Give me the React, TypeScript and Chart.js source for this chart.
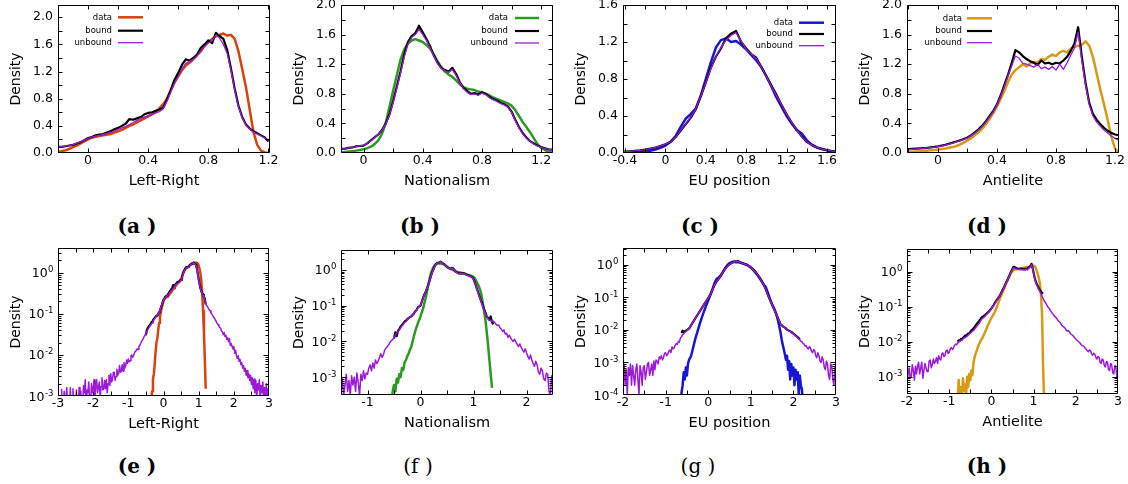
import React, { useEffect, useRef } from 'react';
import { Chart, registerables } from 'chart.js';

Chart.register(...registerables);

function grid(start: number, step: number, n: number): number[] {
  const out: number[] = [];
  for (let i = 0; i < n; i++) out.push(Math.round((start + i * step) * 10000) / 10000);
  return out;
}

// ---------------- Left-Right (a, e) ----------------
const lrX = grid(-0.2, 0.025, 57);
const lrData = [0.02, 0.025, 0.04, 0.06, 0.085, 0.11, 0.14, 0.17, 0.2, 0.225, 0.24, 0.25, 0.26, 0.27, 0.28, 0.3, 0.32, 0.34, 0.37, 0.4, 0.42, 0.45, 0.48, 0.51, 0.54, 0.57, 0.6, 0.66, 0.72, 0.8, 0.92, 1.04, 1.13, 1.22, 1.29, 1.33, 1.38, 1.44, 1.5, 1.58, 1.64, 1.68, 1.72, 1.74, 1.76, 1.73, 1.74, 1.68, 1.5, 1.24, 0.97, 0.64, 0.31, 0.12, 0.035, 0.008, 0.0015];
const lrBound = [0.09, 0.09, 0.1, 0.11, 0.12, 0.14, 0.16, 0.19, 0.22, 0.235, 0.26, 0.27, 0.28, 0.3, 0.32, 0.35, 0.37, 0.4, 0.43, 0.5, 0.49, 0.51, 0.53, 0.57, 0.59, 0.6, 0.62, 0.64, 0.67, 0.79, 0.93, 1.08, 1.18, 1.3, 1.38, 1.36, 1.4, 1.45, 1.55, 1.6, 1.66, 1.62, 1.77, 1.72, 1.68, 1.52, 1.25, 0.95, 0.7, 0.53, 0.42, 0.36, 0.32, 0.29, 0.26, 0.23, 0.17];
const lrUnbound = [0.09, 0.095, 0.1, 0.11, 0.125, 0.145, 0.165, 0.19, 0.215, 0.235, 0.25, 0.26, 0.275, 0.29, 0.305, 0.325, 0.35, 0.37, 0.39, 0.42, 0.45, 0.48, 0.51, 0.53, 0.55, 0.57, 0.59, 0.61, 0.65, 0.76, 0.9, 1.03, 1.13, 1.24, 1.32, 1.35, 1.38, 1.43, 1.5, 1.57, 1.62, 1.65, 1.74, 1.69, 1.6, 1.47, 1.22, 0.93, 0.68, 0.52, 0.41, 0.35, 0.31, 0.28, 0.25, 0.22, 0.18];
const lrDataLX = grid(-0.35, 0.025, 6);
const lrDataL = [0.0008, 0.0013, 0.0025, 0.0035, 0.006, 0.012];
const lrBoundLX = grid(-0.5, 0.025, 12);
const lrBoundL = [0.03, 0.04, 0.045, 0.048, 0.052, 0.055, 0.06, 0.065, 0.07, 0.075, 0.08, 0.085];
const lrUnboundLX = grid(-2.9, 0.025, 108);
const lrUnboundL = [
  0.0015, 0.0005, 0.0005, 0.0013, 0.0005, 0.0005, 0.0016, 0.0005, 0.0005, 0.0005,
  0.0016, 0.0005, 0.0005, 0.0015, 0.0005, 0.0005, 0.0005, 0.0014, 0.0005, 0.0005,
  0.0016, 0.0005, 0.0013, 0.0005, 0.0005, 0.0018, 0.0012, 0.0025, 0.0005, 0.0014,
  0.0012, 0.0022, 0.0008, 0.0005, 0.002, 0.0012, 0.0015, 0.0025, 0.0008, 0.0018,
  0.0025, 0.0012, 0.0016, 0.0022, 0.0009, 0.0017, 0.0028, 0.0014, 0.0015, 0.0024,
  0.0015, 0.0025, 0.0012, 0.002, 0.0032, 0.0018, 0.0035, 0.0022, 0.0025, 0.0038,
  0.0038, 0.0024, 0.003, 0.0045, 0.0032, 0.0035, 0.0055, 0.0038, 0.004, 0.0058,
  0.004, 0.0065, 0.0048, 0.0055, 0.0075, 0.0062, 0.008, 0.0068, 0.0072, 0.0095,
  0.01, 0.0088, 0.0095, 0.0115, 0.012, 0.0128, 0.014, 0.0135, 0.016, 0.0172,
  0.019, 0.021, 0.023, 0.025, 0.028, 0.031, 0.034, 0.037, 0.041, 0.044,
  0.048, 0.052, 0.056, 0.06, 0.065, 0.07, 0.076, 0.082,
];
const lrUnboundRX = grid(1.225, 0.025, 72);
const lrUnboundR = [
  0.16, 0.15, 0.135, 0.125, 0.118, 0.105, 0.098, 0.09, 0.082, 0.078,
  0.07, 0.065, 0.058, 0.055, 0.05, 0.046, 0.045, 0.038, 0.036, 0.031,
  0.035, 0.028, 0.03, 0.024, 0.026, 0.021, 0.025, 0.017, 0.019, 0.016,
  0.014, 0.016, 0.011, 0.013, 0.0095, 0.0082, 0.0095, 0.007, 0.0078, 0.0058,
  0.0065, 0.0048, 0.0055, 0.004, 0.0047, 0.0032, 0.0042, 0.0028, 0.0035, 0.0024,
  0.0032, 0.0019, 0.0028, 0.0015, 0.0026, 0.0012, 0.0024, 0.0008, 0.002, 0.0014,
  0.0025, 0.0008, 0.0018, 0.0012, 0.0022, 0.0007, 0.0016, 0.0011, 0.002, 0.0008,
  0.0015, 0.0012,
];

// ---------------- Nationalism (b, f) ----------------
const natX = grid(-0.175, 0.025, 59);
const natData = [0.007, 0.01, 0.014, 0.019, 0.025, 0.032, 0.04, 0.05, 0.065, 0.085, 0.12, 0.17, 0.26, 0.4, 0.62, 0.84, 1.05, 1.26, 1.4, 1.48, 1.52, 1.54, 1.52, 1.5, 1.46, 1.41, 1.33, 1.24, 1.16, 1.1, 1.06, 1.03, 0.98, 0.93, 0.89, 0.87, 0.86, 0.85, 0.83, 0.82, 0.8, 0.78, 0.75, 0.73, 0.71, 0.69, 0.67, 0.64, 0.58, 0.5, 0.42, 0.35, 0.28, 0.2, 0.12, 0.07, 0.04, 0.018, 0.008];
const natBound = [0.05, 0.055, 0.06, 0.07, 0.075, 0.09, 0.095, 0.1, 0.13, 0.17, 0.21, 0.25, 0.31, 0.4, 0.52, 0.7, 0.9, 1.1, 1.33, 1.5, 1.58, 1.62, 1.72, 1.63, 1.54, 1.44, 1.32, 1.22, 1.15, 1.12, 1.1, 1.15, 1.07, 0.96, 0.88, 0.84, 0.8, 0.81, 0.79, 0.82, 0.8, 0.76, 0.73, 0.71, 0.68, 0.66, 0.63, 0.56, 0.45, 0.35, 0.27, 0.21, 0.16, 0.13, 0.1, 0.08, 0.065, 0.05, 0.045];
const natUnbound = [0.05, 0.055, 0.06, 0.068, 0.075, 0.085, 0.095, 0.105, 0.13, 0.165, 0.205, 0.25, 0.31, 0.39, 0.51, 0.68, 0.88, 1.08, 1.3, 1.47, 1.56, 1.6, 1.67, 1.6, 1.52, 1.42, 1.31, 1.21, 1.14, 1.11, 1.09, 1.13, 1.05, 0.95, 0.87, 0.82, 0.79, 0.8, 0.78, 0.81, 0.79, 0.75, 0.72, 0.7, 0.67, 0.65, 0.62, 0.55, 0.44, 0.34, 0.26, 0.2, 0.16, 0.12, 0.095, 0.075, 0.06, 0.05, 0.042];
const natDataLX = grid(-0.55, 0.025, 15);
const natDataL = [0.0002, 0.0004, 0.0006, 0.0004, 0.0009, 0.0007, 0.0012, 0.001, 0.0018, 0.0016, 0.0026, 0.003, 0.0038, 0.0045, 0.0058];
const natDataRX = grid(1.3, 0.025, 3);
const natDataR = [0.003, 0.0012, 0.0005];
const natBoundLX = grid(-0.5, 0.025, 13);
const natBoundL = [0.012, 0.018, 0.014, 0.02, 0.022, 0.026, 0.029, 0.032, 0.036, 0.038, 0.042, 0.045, 0.048];
const natBoundRX = grid(1.3, 0.025, 4);
const natBoundR = [0.04, 0.05, 0.035, 0.03];
const natUnboundLX = grid(-1.5, 0.025, 53);
const natUnboundL = [
  0.0004, 0.0009, 0.0003, 0.0006, 0.0012, 0.0004, 0.0008, 0.0003, 0.0011, 0.0006,
  0.001, 0.0004, 0.0013, 0.0007, 0.0003, 0.0012, 0.0008, 0.0015, 0.0009, 0.0013,
  0.0012, 0.0018, 0.0022, 0.0015, 0.0025, 0.0018, 0.003, 0.0024, 0.0028, 0.0035,
  0.0045, 0.0036, 0.0042, 0.0058, 0.0065, 0.0072, 0.008, 0.0095, 0.0105, 0.0112,
  0.013, 0.0145, 0.017, 0.0185, 0.021, 0.024, 0.027, 0.03, 0.034, 0.036,
  0.041, 0.045, 0.048,
];
const natUnboundRX = grid(1.3, 0.025, 49);
const natUnboundR = [
  0.04, 0.038, 0.036, 0.037, 0.034, 0.03, 0.028, 0.029, 0.024, 0.022,
  0.019, 0.021, 0.016, 0.017, 0.013, 0.015, 0.0125, 0.011, 0.01, 0.0115,
  0.0095, 0.0082, 0.0072, 0.0085, 0.0068, 0.0058, 0.005, 0.0062, 0.0048, 0.0038,
  0.0032, 0.0042, 0.003, 0.0024, 0.002, 0.0028, 0.0022, 0.0014, 0.0012, 0.0018,
  0.0015, 0.0009, 0.0008, 0.0013, 0.0012, 0.0004, 0.0003, 0.0011, 0.0009,
];

// ---------------- EU position (c, g) ----------------
const euX = grid(-0.45, 0.05, 44);
const euData = [0.0012, 0.0016, 0.003, 0.0055, 0.009, 0.015, 0.024, 0.037, 0.055, 0.08, 0.12, 0.18, 0.28, 0.37, 0.42, 0.48, 0.62, 0.8, 0.98, 1.14, 1.22, 1.24, 1.2, 1.21, 1.17, 1.12, 1.06, 1.0, 0.93, 0.83, 0.72, 0.6, 0.5, 0.4, 0.32, 0.25, 0.21, 0.14, 0.09, 0.06, 0.045, 0.03, 0.017, 0.008];
const euBound = [0.011, 0.014, 0.018, 0.023, 0.029, 0.037, 0.047, 0.06, 0.075, 0.095, 0.12, 0.17, 0.24, 0.31, 0.38, 0.47, 0.61, 0.76, 0.92, 1.04, 1.13, 1.24, 1.29, 1.32, 1.2, 1.13, 1.07, 1.03, 0.93, 0.83, 0.73, 0.63, 0.52, 0.42, 0.33, 0.25, 0.18, 0.12, 0.085, 0.06, 0.042, 0.03, 0.021, 0.015];
const euUnbound = [0.011, 0.014, 0.018, 0.023, 0.029, 0.037, 0.047, 0.06, 0.075, 0.095, 0.12, 0.17, 0.245, 0.315, 0.385, 0.475, 0.61, 0.76, 0.91, 1.04, 1.14, 1.22, 1.27, 1.3, 1.21, 1.12, 1.07, 1.02, 0.93, 0.83, 0.72, 0.62, 0.52, 0.42, 0.33, 0.25, 0.18, 0.12, 0.085, 0.06, 0.042, 0.03, 0.021, 0.015];
const euDataLX = grid(-0.65, 0.025, 8);
const euDataL = [0.00005, 0.00012, 0.0002, 0.0005, 0.0003, 0.0007, 0.0004, 0.0009];
const euDataRX = grid(1.725, 0.025, 21);
const euDataR = [0.005, 0.0035, 0.0025, 0.0018, 0.0012, 0.0016, 0.0006, 0.0011, 0.0003, 0.0009, 0.0004, 0.0007, 0.0002, 0.0006, 0.0003, 0.0005, 0.0001, 0.0004, 0.0002, 0.00015, 0.00005];
const euBoundLX = grid(-0.625, 0.025, 7);
const euBoundL = [0.008, 0.0095, 0.0085, 0.009, 0.0095, 0.0098, 0.0105];
const euBoundRX = grid(1.75, 0.05, 9);
const euBoundR = [0.013, 0.0118, 0.0102, 0.0095, 0.0087, 0.0077, 0.0068, 0.006, 0.0052];
const euUnboundLX = grid(-2.0, 0.025, 61);
const euUnboundL = [
  0.0003, 0.0009, 0.0002, 0.0006, 0.0001, 0.0007, 0.0004, 0.0009, 0.0002, 0.0008,
  0.0004, 0.0002, 0.0006, 0.0009, 0.0003, 0.0001, 0.0008, 0.0005, 0.0002, 0.0007,
  0.0008, 0.0003, 0.0005, 0.0009, 0.001, 0.0004, 0.0006, 0.0009, 0.0004, 0.0011,
  0.0006, 0.0012, 0.0011, 0.0009, 0.0015, 0.0013, 0.0016, 0.0012, 0.0014, 0.0019,
  0.002, 0.0016, 0.0018, 0.0022, 0.0024, 0.002, 0.003, 0.0026, 0.0028, 0.0034,
  0.0038, 0.0036, 0.0045, 0.0042, 0.0058, 0.0062, 0.0072, 0.0075, 0.0085, 0.0088,
  0.0097,
];
const euUnboundRX = grid(1.75, 0.025, 51);
const euUnboundR = [
  0.013, 0.0125, 0.0115, 0.0108, 0.01, 0.0098, 0.0092, 0.009, 0.0085, 0.0078,
  0.0075, 0.0072, 0.0065, 0.0062, 0.0058, 0.0052, 0.005, 0.0045, 0.0044, 0.0038,
  0.0037, 0.0032, 0.0033, 0.0028, 0.0026, 0.0031, 0.0028, 0.0022, 0.002, 0.0025,
  0.0023, 0.0016, 0.0014, 0.002, 0.0016, 0.0011, 0.001, 0.0015, 0.0012, 0.0007,
  0.0006, 0.0011, 0.0009, 0.0004, 0.0003, 0.0009, 0.0008, 0.0003, 0.0002, 0.0007,
  0.0006,
];

// ---------------- Antielite (d, h) ----------------
const aeX = grid(-0.225, 0.025, 59);
const aeData = [0.012, 0.014, 0.016, 0.019, 0.022, 0.027, 0.031, 0.036, 0.042, 0.048, 0.054, 0.06, 0.07, 0.08, 0.095, 0.115, 0.14, 0.17, 0.2, 0.24, 0.28, 0.33, 0.39, 0.46, 0.54, 0.63, 0.73, 0.84, 0.96, 1.06, 1.12, 1.16, 1.2, 1.17, 1.21, 1.23, 1.22, 1.27, 1.26, 1.3, 1.33, 1.31, 1.36, 1.38, 1.36, 1.41, 1.43, 1.45, 1.46, 1.51, 1.45, 1.3, 1.08, 0.86, 0.66, 0.45, 0.22, 0.06, 0.002];
const aeBound = [0.05, 0.052, 0.055, 0.058, 0.062, 0.066, 0.07, 0.076, 0.082, 0.09, 0.1, 0.11, 0.125, 0.14, 0.155, 0.17, 0.19, 0.21, 0.24, 0.28, 0.32, 0.37, 0.43, 0.5, 0.57, 0.66, 0.78, 0.92, 1.06, 1.22, 1.39, 1.36, 1.31, 1.27, 1.24, 1.22, 1.19, 1.25, 1.21, 1.22, 1.2, 1.22, 1.21, 1.25, 1.3, 1.38, 1.48, 1.7, 1.3, 0.95, 0.68, 0.53, 0.45, 0.39, 0.34, 0.3, 0.27, 0.25, 0.24];
const aeUnbound = [0.045, 0.048, 0.05, 0.054, 0.058, 0.063, 0.068, 0.074, 0.08, 0.088, 0.097, 0.107, 0.12, 0.135, 0.15, 0.167, 0.185, 0.205, 0.235, 0.27, 0.31, 0.36, 0.42, 0.49, 0.56, 0.65, 0.77, 0.9, 1.04, 1.18, 1.31, 1.28, 1.21, 1.2, 1.18, 1.16, 1.2, 1.14, 1.16, 1.13, 1.17, 1.12, 1.2, 1.13, 1.22, 1.32, 1.42, 1.63, 1.25, 0.92, 0.66, 0.5, 0.42, 0.36, 0.31, 0.27, 0.23, 0.2, 0.17];
const aeDataLX = grid(-0.8, 0.025, 23);
const aeDataL = [0.0002, 0.0008, 0.0003, 0.0005, 0.0002, 0.0009, 0.0004, 0.0006, 0.0003, 0.001, 0.0005, 0.0012, 0.0008, 0.0015, 0.0011, 0.0025, 0.0035, 0.0045, 0.0055, 0.0068, 0.0082, 0.0095, 0.011];
const aeDataRX = grid(1.25, 0.025, 1);
const aeDataR = [0.0002];
const aeBoundLX = grid(-0.8, 0.025, 23);
const aeBoundL = [0.01, 0.011, 0.0105, 0.012, 0.0115, 0.013, 0.0135, 0.015, 0.0145, 0.016, 0.017, 0.0175, 0.019, 0.021, 0.022, 0.024, 0.026, 0.029, 0.032, 0.035, 0.038, 0.042, 0.046];
const aeUnboundLX = grid(-2.0, 0.025, 71);
const aeUnboundL = [
  0.0006, 0.0012, 0.0018, 0.0009, 0.001, 0.0022, 0.0015, 0.0008, 0.002, 0.0012,
  0.002, 0.0026, 0.0012, 0.0018, 0.0026, 0.0009, 0.0015, 0.0024, 0.0018, 0.0014,
  0.0014, 0.0028, 0.003, 0.0018, 0.0022, 0.0032, 0.0024, 0.0028, 0.0035, 0.0024,
  0.004, 0.0032, 0.003, 0.0045, 0.0048, 0.0038, 0.004, 0.0055, 0.0058, 0.0046,
  0.005, 0.0062, 0.0068, 0.006, 0.0065, 0.0078, 0.0085, 0.0082, 0.009, 0.0098,
  0.0105, 0.011, 0.0112, 0.012, 0.0128, 0.013, 0.0138, 0.0145, 0.0155, 0.0165,
  0.0175, 0.0185, 0.02, 0.021, 0.0225, 0.025, 0.027, 0.03, 0.032, 0.036,
  0.04,
];
const aeUnboundRX = grid(1.25, 0.025, 71);
const aeUnboundR = [
  0.15, 0.135, 0.12, 0.105, 0.095, 0.088, 0.078, 0.07, 0.064, 0.058,
  0.053, 0.05, 0.046, 0.041, 0.038, 0.036, 0.032, 0.029, 0.027, 0.026,
  0.024, 0.021, 0.02, 0.021, 0.019, 0.017, 0.016, 0.0155, 0.014, 0.013,
  0.012, 0.0112, 0.0105, 0.0098, 0.0092, 0.0082, 0.0078, 0.0076, 0.0072, 0.0065,
  0.006, 0.0055, 0.0052, 0.0058, 0.0055, 0.0045, 0.0041, 0.0047, 0.0044, 0.0036,
  0.0032, 0.0038, 0.0036, 0.0026, 0.0024, 0.0032, 0.003, 0.0021, 0.0019, 0.0027,
  0.0026, 0.0016, 0.0015, 0.0024, 0.0022, 0.0013, 0.0012, 0.0021, 0.0019, 0.0009,
  0.0008,
];

// ---------------- ticks ----------------
const topYTicks = [0, 0.4, 0.8, 1.2, 1.6, 2.0];
const euYTicks = [0, 0.4, 0.8, 1.2, 1.6];
const topXTicks = [0, 0.4, 0.8, 1.2];
const euXTicks = [-0.4, 0, 0.4, 0.8, 1.2, 1.6];
const eXTicks = [-3, -2, -1, 0, 1, 2, 3];
const fXTicks = [-1, 0, 1, 2];
const ghXTicks = [-2, -1, 0, 1, 2, 3];
const decades3 = [-3, -2, -1, 0];
const decades4 = [-4, -3, -2, -1, 0];

// ---------------- colours ----------------
const colLR = '#d9420c';
const colNat = '#2c9a22';
const colEU = '#1616d4';
const colAE = '#d69a14';
const colBound = '#000000';
const colUnbound = '#9a1ad8';

const FONT = '"DejaVu Sans", sans-serif';
const PAD_L = 58, PAD_T = 5, PAD_R = 14, PAD_B = 42;

type Pt = { x: number; y: number };
function pts(xs: number[], ys: number[]): Pt[] {
  return ys.map((y, i) => ({ x: xs[i], y }));
}

type Legend = { textRight: number; lineL: number; lineR: number; rows: number[] };
type Panel = {
  key: string; l: number; t: number; r: number; b: number;
  log: boolean; xMin: number; xMax: number; yMin: number; yMax: number;
  xMajor: number[]; xMinorStep: number; yMajor: number[]; yMinorStep: number;
  xTitle: string; color: string; data: Pt[]; bound: Pt[]; unbound: Pt[];
  legend: Legend | null;
};

const panels: Panel[] = [
  {
    key: 'a', l: 58, t: 5, r: 270, b: 153, log: false, xMin: -0.2, xMax: 1.21, yMin: 0, yMax: 2.18,
    xMajor: topXTicks, xMinorStep: 0.2, yMajor: topYTicks, yMinorStep: 0.2, xTitle: 'Left-Right', color: colLR,
    data: pts(lrX, lrData), bound: pts(lrX, lrBound), unbound: pts(lrX, lrUnbound),
    legend: { textRight: 54, lineL: 60, lineR: 85, rows: [12.3, 25.7, 37.7] },
  },
  {
    key: 'b', l: 341, t: 5, r: 553, b: 153, log: false, xMin: -0.152, xMax: 1.28, yMin: 0, yMax: 2.0,
    xMajor: topXTicks, xMinorStep: 0.2, yMajor: topYTicks, yMinorStep: 0.2, xTitle: 'Nationalism', color: colNat,
    data: pts(natX, natData), bound: pts(natX, natBound), unbound: pts(natX, natUnbound),
    legend: { textRight: 167, lineL: 174, lineR: 198, rows: [13, 26, 38] },
  },
  {
    key: 'c', l: 623, t: 5, r: 836, b: 153, log: false, xMin: -0.42, xMax: 1.69, yMin: 0, yMax: 1.6,
    xMajor: euXTicks, xMinorStep: 0.2, yMajor: euYTicks, yMinorStep: 0.2, xTitle: 'EU position', color: colEU,
    data: pts(euX, euData), bound: pts(euX, euBound), unbound: pts(euX, euUnbound),
    legend: { textRight: 170, lineL: 176, lineR: 201, rows: [17.7, 29, 40.7] },
  },
  {
    key: 'd', l: 907, t: 5, r: 1119, b: 153, log: false, xMin: -0.21, xMax: 1.227, yMin: 0, yMax: 2.0,
    xMajor: topXTicks, xMinorStep: 0.2, yMajor: topYTicks, yMinorStep: 0.2, xTitle: 'Antielite', color: colAE,
    data: pts(aeX, aeData), bound: pts(aeX, aeBound), unbound: pts(aeX, aeUnbound),
    legend: { textRight: 55, lineL: 60, lineR: 85, rows: [13.3, 26, 37.7] },
  },
  {
    key: 'e', l: 58, t: 248, r: 269, b: 396, log: true, xMin: -3, xMax: 3, yMin: 1e-3, yMax: 4,
    xMajor: eXTicks, xMinorStep: 0.5, yMajor: decades3, yMinorStep: 0, xTitle: 'Left-Right', color: colLR,
    data: [...pts(lrDataLX, lrDataL), ...pts(lrX, lrData)],
    bound: [...pts(lrBoundLX, lrBoundL), ...pts(lrX, lrBound)],
    unbound: [...pts(lrUnboundLX, lrUnboundL), ...pts(lrX, lrUnbound), ...pts(lrUnboundRX, lrUnboundR)],
    legend: null,
  },
  {
    key: 'f', l: 341, t: 250, r: 553, b: 395, log: true, xMin: -1.5, xMax: 2.5, yMin: 3.16e-4, yMax: 3.63,
    xMajor: fXTicks, xMinorStep: 0.5, yMajor: decades3, yMinorStep: 0, xTitle: 'Nationalism', color: colNat,
    data: [...pts(natDataLX, natDataL), ...pts(natX, natData), ...pts(natDataRX, natDataR)],
    bound: [...pts(natBoundLX, natBoundL), ...pts(natX, natBound), ...pts(natBoundRX, natBoundR)],
    unbound: [...pts(natUnboundLX, natUnboundL), ...pts(natX, natUnbound), ...pts(natUnboundRX, natUnboundR)],
    legend: null,
  },
  {
    key: 'g', l: 623, t: 248, r: 836, b: 395, log: true, xMin: -2, xMax: 3, yMin: 1e-4, yMax: 3.3,
    xMajor: ghXTicks, xMinorStep: 0.5, yMajor: decades4, yMinorStep: 0, xTitle: 'EU position', color: colEU,
    data: [...pts(euDataLX, euDataL), ...pts(euX, euData), ...pts(euDataRX, euDataR)],
    bound: [...pts(euBoundLX, euBoundL), ...pts(euX, euBound), ...pts(euBoundRX, euBoundR)],
    unbound: [...pts(euUnboundLX, euUnboundL), ...pts(euX, euUnbound), ...pts(euUnboundRX, euUnboundR)],
    legend: null,
  },
  {
    key: 'h', l: 907, t: 249, r: 1118, b: 394, log: true, xMin: -2, xMax: 3, yMin: 3.2e-4, yMax: 4.5,
    xMajor: ghXTicks, xMinorStep: 0.5, yMajor: decades3, yMinorStep: 0, xTitle: 'Antielite', color: colAE,
    data: [...pts(aeDataLX, aeDataL), ...pts(aeX, aeData), ...pts(aeDataRX, aeDataR)],
    bound: [...pts(aeBoundLX, aeBoundL), ...pts(aeX, aeBound)],
    unbound: [...pts(aeUnboundLX, aeUnboundL), ...pts(aeX, aeUnbound), ...pts(aeUnboundRX, aeUnboundR)],
    legend: null,
  },
];

const subLabels = [
  { text: '(a )', x: 137, y: 226, bold: true },
  { text: '(b )', x: 420, y: 226, bold: true },
  { text: '(c )', x: 700, y: 226, bold: true },
  { text: '(d )', x: 987, y: 226, bold: true },
  { text: '(e )', x: 137, y: 466, bold: true },
  { text: '(f )', x: 418, y: 466, bold: false },
  { text: '(g )', x: 698, y: 466, bold: false },
  { text: '(h )', x: 987, y: 466, bold: true },
];

const framePlugin = {
  id: 'frame',
  afterDraw(chart: any, _args: any, opts: any) {
    const p: Panel = opts.panel;
    const { ctx, chartArea: a, scales } = chart;
    const xs = scales.x, ys = scales.y;
    const L = a.left + 0.5, R = a.right - 0.5, T = a.top + 0.5, B = a.bottom - 0.5;
    ctx.save();
    ctx.strokeStyle = '#000';
    ctx.lineWidth = 1;
    ctx.beginPath();
    ctx.rect(L, T, R - L, B - T);
    const xt = (v: number, len: number) => {
      const px = Math.round(xs.getPixelForValue(v)) + 0.5;
      if (px < L - 0.1 || px > R + 0.1) return;
      ctx.moveTo(px, B); ctx.lineTo(px, B - len);
      ctx.moveTo(px, T); ctx.lineTo(px, T + len);
    };
    const yt = (v: number, len: number) => {
      const py = Math.round(ys.getPixelForValue(v)) + 0.5;
      if (py < T - 0.1 || py > B + 0.1) return;
      ctx.moveTo(L, py); ctx.lineTo(L + len, py);
      ctx.moveTo(R, py); ctx.lineTo(R - len, py);
    };
    const xStep = p.xMinorStep;
    for (let k = Math.ceil(p.xMin / xStep - 1e-9); k * xStep <= p.xMax + 1e-9; k++) xt(k * xStep, 4);
    if (p.log) {
      const d0 = Math.floor(Math.log10(p.yMin)), d1 = Math.ceil(Math.log10(p.yMax));
      for (let d = d0; d <= d1; d++) {
        for (let k = 1; k <= 9; k++) {
          const v = k * Math.pow(10, d);
          if (v < p.yMin || v > p.yMax) continue;
          yt(v, k === 1 ? 5 : 3);
        }
      }
    } else {
      const s = p.yMinorStep;
      for (let k = Math.ceil(p.yMin / s - 1e-9); k * s <= p.yMax + 1e-9; k++) yt(k * s, 4);
    }
    ctx.stroke();

    ctx.fillStyle = '#000';
    if (p.log) {
      ctx.textAlign = 'right';
      ctx.textBaseline = 'alphabetic';
      for (const d of p.yMajor) {
        const py = ys.getPixelForValue(Math.pow(10, d));
        const exp = String(d);
        ctx.font = `8.5px ${FONT}`;
        const ew = ctx.measureText(exp).width;
        const xr = a.left - 4.5;
        ctx.fillText(exp, xr, py - 0.5);
        ctx.font = `12.5px ${FONT}`;
        ctx.fillText('10', xr - ew - 0.5, py + 4.5);
      }
    }

    if (p.legend) {
      const lg = p.legend;
      ctx.font = `8.5px ${FONT}`;
      ctx.textAlign = 'right';
      ctx.textBaseline = 'middle';
      chart.data.datasets.forEach((ds: any, i: number) => {
        const y = a.top + lg.rows[i];
        ctx.fillStyle = '#000';
        ctx.fillText(ds.label, a.left + lg.textRight, y);
        ctx.strokeStyle = ds.borderColor;
        ctx.lineWidth = ds.borderWidth;
        ctx.beginPath();
        ctx.moveTo(a.left + lg.lineL, y);
        ctx.lineTo(a.left + lg.lineR, y);
        ctx.stroke();
      });
    }
    ctx.restore();
  },
};

function zeroPad(ax: any) {
  ax.paddingLeft = 0; ax.paddingRight = 0; ax.paddingTop = 0; ax.paddingBottom = 0;
}

function makeConfig(p: Panel): any {
  const base = { pointRadius: 0, fill: false, tension: 0, clip: 0, borderJoinStyle: 'round' };
  return {
    type: 'line',
    data: {
      datasets: [
        { ...base, label: 'data', data: p.data, borderColor: p.color, borderWidth: 2.5, order: 3 },
        { ...base, label: 'bound', data: p.bound, borderColor: colBound, borderWidth: 2.2, order: 2 },
        { ...base, label: 'unbound', data: p.unbound, borderColor: colUnbound, borderWidth: p.log ? 1.5 : 1.3, order: 1 },
      ],
    },
    options: {
      responsive: false,
      animation: false,
      events: [],
      layout: { padding: { left: 0, top: PAD_T, right: PAD_R, bottom: 0 } },
      plugins: { legend: { display: false }, tooltip: { enabled: false }, frame: { panel: p } },
      scales: {
        x: {
          type: 'linear', position: 'bottom', min: p.xMin, max: p.xMax, bounds: 'data',
          grid: { display: false, drawTicks: false }, border: { display: false },
          ticks: {
            autoSkip: false, maxRotation: 0, minRotation: 0, padding: 0, color: '#000',
            font: { size: 12.5, family: FONT },
            callback: (v: number) => (p.log ? String(v) : v === 0 ? '0' : Number(v).toFixed(1)),
          },
          afterBuildTicks: (ax: any) => { ax.ticks = p.xMajor.map((v) => ({ value: v })); },
          afterFit: (ax: any) => { ax.height = PAD_B; zeroPad(ax); },
          title: { display: true, text: p.xTitle, color: '#000', font: { size: 14.5, family: FONT }, padding: { top: 0, bottom: 5.2 } },
        },
        y: {
          type: p.log ? 'logarithmic' : 'linear', position: 'left', min: p.yMin, max: p.yMax, bounds: 'data',
          grid: { display: false, drawTicks: false }, border: { display: false },
          ticks: {
            display: !p.log, autoSkip: false, padding: 5, color: '#000',
            font: { size: 12.5, family: FONT },
            callback: (v: number) => Number(v).toFixed(1),
          },
          afterBuildTicks: (ax: any) => {
            if (!p.log) ax.ticks = p.yMajor.map((v) => ({ value: v }));
          },
          afterFit: (ax: any) => { ax.width = PAD_L; zeroPad(ax); },
          title: { display: true, text: 'Density', color: '#000', font: { size: 14, family: FONT }, padding: { top: 7.6, bottom: 0 } },
        },
      },
    },
    plugins: [framePlugin],
  };
}

function PanelChart({ p }: { p: Panel }) {
  const ref = useRef<HTMLCanvasElement>(null);
  useEffect(() => {
    if (!ref.current) return;
    const chart = new Chart(ref.current, makeConfig(p));
    return () => chart.destroy();
  }, [p]);
  const w = p.r - p.l + PAD_L + PAD_R;
  const h = p.b - p.t + PAD_T + PAD_B;
  return (
    <canvas
      ref={ref}
      width={w}
      height={h}
      style={{ position: 'absolute', left: p.l - PAD_L, top: p.t - PAD_T, width: w, height: h }}
    />
  );
}

export default function App() {
  return (
    <div style={{ position: 'fixed', left: 0, top: 0, width: 1128, height: 484, background: '#fff', overflow: 'hidden' }}>
      {panels.map((p) => (
        <PanelChart key={p.key} p={p} />
      ))}
      {subLabels.map((s) => (
        <div
          key={s.text}
          style={{
            position: 'absolute', left: s.x - 40, top: s.y - 13, width: 80, height: 26, lineHeight: '26px',
            textAlign: 'center', fontFamily: '"DejaVu Serif", serif', fontWeight: s.bold ? 700 : 400,
            fontSize: 20, color: '#000', whiteSpace: 'pre',
          }}
        >
          {s.text}
        </div>
      ))}
    </div>
  );
}
